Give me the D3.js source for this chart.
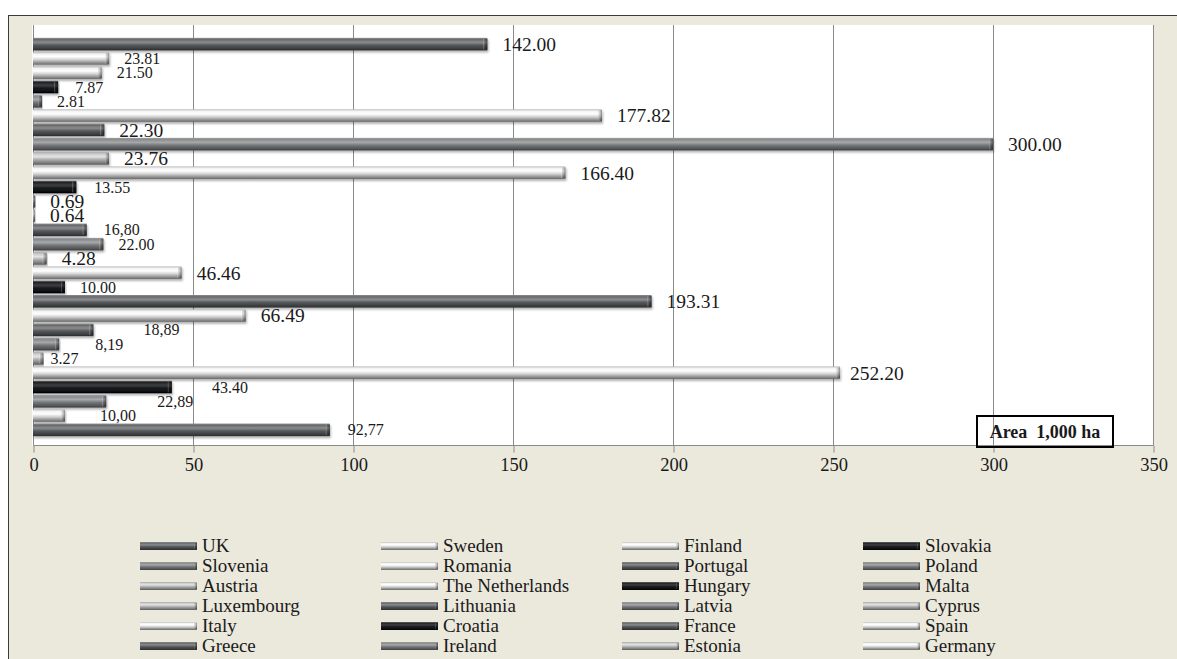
<!DOCTYPE html>
<html>
<head>
<meta charset="utf-8">
<script src="https://cdn.jsdelivr.net/npm/d3@7"></script>
<style>
  body { margin: 0; background: #fff; }
  text { font-family: 'Liberation Serif', 'Times New Roman', serif; fill: #1a1a1a; }
</style>
</head>
<body>
<script>
// top to bottom, same order as the legend
const countries = ['UK', 'Sweden', 'Finland', 'Slovakia', 'Slovenia', 'Romania', 'Portugal', 'Poland',
  'Austria', 'The Netherlands', 'Hungary', 'Malta', 'Luxembourg', 'Lithuania', 'Latvia', 'Cyprus',
  'Italy', 'Croatia', 'France', 'Spain', 'Greece', 'Ireland', 'Estonia', 'Germany',
  'Denmark', 'Czech Republic', 'Bulgaria', 'Belgium']
const areas = [142.00, 23.81, 21.50, 7.87, 2.81, 177.82, 22.30, 300.00,
  23.76, 166.40, 13.55, 0.69, 0.64, 16.80, 22.00, 4.28,
  46.46, 10.00, 193.31, 66.49, 18.89, 8.19, 3.27, 252.20,
  43.40, 22.89, 10.00, 92.77]
const valueLabels = ['142.00', '23.81', '21.50', '7.87', '2.81', '177.82', '22.30', '300.00',
  '23.76', '166.40', '13.55', '0.69', '0.64', '16,80', '22.00', '4.28',
  '46.46', '10.00', '193.31', '66.49', '18,89', '8,19', '3.27', '252.20',
  '43.40', '22,89', '10,00', '92,77']
const xTicks = [0, 50, 100, 150, 200, 250, 300, 350]
const unitLabel = 'Area\u00a0\u00a01,000 ha'

// styling
const tones = ['dark', 'white', 'white', 'black', 'medium', 'white', 'dark', 'medium',
  'light', 'white', 'black', 'medium', 'light', 'dark', 'medium', 'light',
  'white', 'black', 'dark', 'white', 'dark', 'medium', 'light', 'white',
  'black', 'medium', 'white', 'dark']
const toneStops = {
  white: ['#b8b8b8', '#f2f2f2', '#ffffff', '#d2d2d2', '#8e8e8e', '#6a6a6a'],
  light: ['#a4a4a4', '#cbcbcb', '#e4e4e4', '#ababab', '#7c7c7c', '#5a5a5a'],
  medium: ['#9c9c9c', '#8a8c8e', '#a6a8aa', '#737578', '#545659', '#3c3e40'],
  dark: ['#8c8c8c', '#696b6d', '#8a8c8e', '#54575a', '#3c3e40', '#2a2c2e'],
  black: ['#707070', '#222426', '#3e4042', '#17191b', '#0d0f10', '#000000']
}
const stopOffsets = [0, 0.14, 0.36, 0.6, 0.85, 1]
const bigLabels = new Set(['UK', 'Romania', 'Portugal', 'Poland', 'Austria', 'The Netherlands', 'Malta',
  'Luxembourg', 'Cyprus', 'Italy', 'France', 'Spain', 'Germany'])
const labelShift = { Greece: 35, Ireland: 21, Estonia: -8, Denmark: 25, 'Czech Republic': 36, Bulgaria: 20, Germany: -5, Belgium: 3, Slovakia: 2, Lithuania: 2, Hungary: 3 }

const width = 1177
const height = 659
const plot = { left: 32, top: 25, right: 1154, bottom: 445 }

const svg = d3.select('body').append('svg').attr('width', width).attr('height', height)
const defs = svg.append('defs')

Object.keys(toneStops).forEach((t) => {
  const g = defs.append('linearGradient').attr('id', 'g-' + t).attr('x1', 0).attr('y1', 0).attr('x2', 0).attr('y2', 1)
  toneStops[t].forEach((c, i) => g.append('stop').attr('offset', stopOffsets[i]).attr('stop-color', c))
})
const cap = defs.append('linearGradient').attr('id', 'cap').attr('x1', 0).attr('x2', 1)
cap.append('stop').attr('offset', 0).attr('stop-color', '#fff').attr('stop-opacity', 0.35)
cap.append('stop').attr('offset', 0.4).attr('stop-color', '#000').attr('stop-opacity', 0.15)
cap.append('stop').attr('offset', 1).attr('stop-color', '#000').attr('stop-opacity', 0.45)

const shadow = defs.append('filter').attr('id', 'shadow').attr('x', '-5%').attr('y', '-50%').attr('width', '110%').attr('height', '220%')
shadow.append('feDropShadow').attr('dx', 1).attr('dy', 2).attr('stdDeviation', 1.3).attr('flood-color', '#000').attr('flood-opacity', 0.3)

// chart area
svg.append('rect').attr('x', 8.5).attr('y', 15.5).attr('width', width).attr('height', height)
  .attr('fill', '#ebe8dc').attr('stroke', '#3a3a3a').attr('stroke-width', 1)
svg.append('rect').attr('x', plot.left).attr('y', plot.top)
  .attr('width', plot.right - plot.left).attr('height', plot.bottom - plot.top).attr('fill', '#fff')

const xScale = d3.scaleLinear().domain([0, 350]).range([33, 1153])
const yScale = d3.scaleBand().domain(countries).range([37, 437]).paddingInner(0.12).paddingOuter(0.06)

// grid + axis
svg.append('g').selectAll('line').data(xTicks).enter().append('line')
  .attr('x1', (d) => Math.round(xScale(d)) + 0.5).attr('x2', (d) => Math.round(xScale(d)) + 0.5)
  .attr('y1', plot.top).attr('y2', plot.bottom)
  .attr('stroke', '#8a8a8a').attr('stroke-width', 1)

const xAxis = d3.axisBottom(xScale).tickValues(xTicks).tickSize(7).tickPadding(5).tickFormat(d3.format('d'))
const axisG = svg.append('g').attr('transform', `translate(0.5,${plot.bottom + 0.5})`).call(xAxis)
axisG.select('.domain').attr('stroke', '#8a8a8a').attr('d', `M${xScale(0)},0H${xScale(350)}`)
axisG.selectAll('.tick line').attr('stroke', '#8a8a8a')
axisG.selectAll('.tick text').style('font-family', "'Liberation Serif', serif").style('font-size', '18.5px').attr('fill', '#222')

// bars
const rows = countries.map((c, i) => ({ country: c, value: areas[i], label: valueLabels[i], tone: tones[i] }))

const bars = svg.append('g').selectAll('g').data(rows).enter().append('g').attr('filter', 'url(#shadow)')
bars.append('rect')
  .attr('x', xScale(0)).attr('y', (d) => yScale(d.country))
  .attr('width', (d) => xScale(d.value) - xScale(0)).attr('height', yScale.bandwidth())
  .attr('fill', (d) => `url(#g-${d.tone})`)
bars.append('rect')
  .attr('x', (d) => Math.max(xScale(0), xScale(d.value) - 4)).attr('y', (d) => yScale(d.country) + 1)
  .attr('width', (d) => Math.min(4, xScale(d.value) - xScale(0))).attr('height', yScale.bandwidth() - 2)
  .attr('fill', 'url(#cap)')

// value labels
svg.append('g').selectAll('text').data(rows).enter().append('text')
  .attr('x', (d) => xScale(d.value) + 15 + (labelShift[d.country] || 0))
  .attr('y', (d) => yScale(d.country) + yScale.bandwidth() / 2)
  .attr('dy', '0.35em')
  .style('font-size', (d) => bigLabels.has(d.country) ? '19.5px' : '16px')
  .text((d) => d.label)

// unit box
const ux = xScale(300) - 16
svg.append('rect').attr('x', ux).attr('y', 416).attr('width', 136).attr('height', 31)
  .attr('fill', 'none').attr('stroke', '#000').attr('stroke-width', 2)
svg.append('text').attr('x', ux + 68).attr('y', 438).attr('text-anchor', 'middle')
  .style('font-size', '18px').style('font-weight', 'bold').text(unitLabel)

// legend, 4 columns, reading row by row; only the six rows that fit in the picture
const colX = [140, 381, 622, 863]
const legendRows = rows.slice(0, 24)
const legend = svg.append('g').selectAll('g').data(legendRows).enter().append('g')
  .attr('transform', (d, i) => `translate(${colX[i % 4]},${546 + Math.floor(i / 4) * 20})`)
legend.append('rect').attr('x', 0).attr('y', -4).attr('width', 57).attr('height', 8)
  .attr('fill', (d) => `url(#g-${d.tone})`)
legend.append('rect').attr('x', 54).attr('y', -3).attr('width', 3).attr('height', 6).attr('fill', 'url(#cap)')
legend.append('text').attr('x', 62).attr('y', 0).attr('dy', '0.33em')
  .style('font-size', '19px').text((d) => d.country)
</script>
</body>
</html>
